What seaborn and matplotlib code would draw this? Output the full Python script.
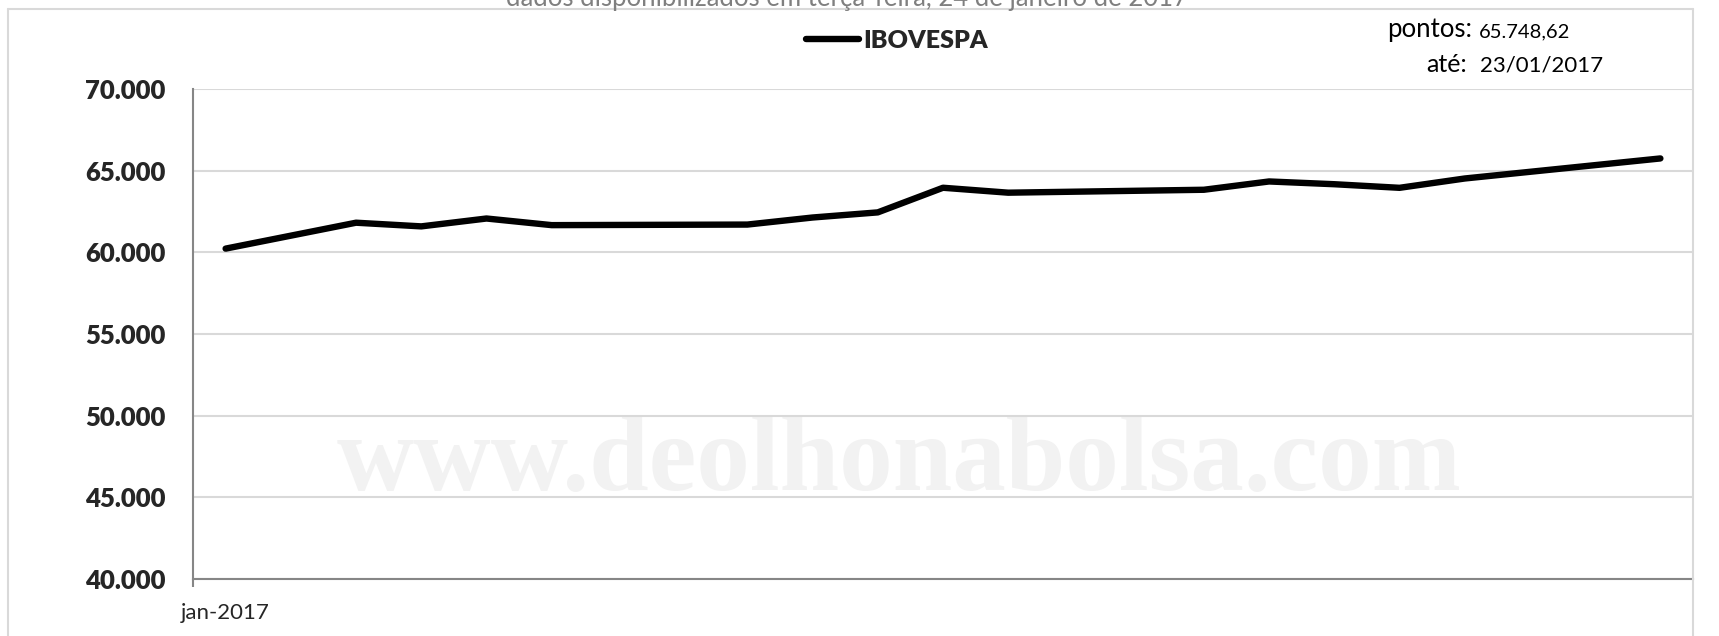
import pandas as pd
import matplotlib.pyplot as plt
import matplotlib.dates as mdates
from matplotlib.lines import Line2D
from matplotlib.ticker import FuncFormatter, FixedLocator
import seaborn as sns

# dados do gráfico
datas = ['2017-01-01', '2017-01-03', '2017-01-04', '2017-01-05', '2017-01-06',
         '2017-01-09', '2017-01-10', '2017-01-11', '2017-01-12', '2017-01-13',
         '2017-01-16', '2017-01-17', '2017-01-18', '2017-01-19', '2017-01-20',
         '2017-01-23']
pontos = [60227, 61814, 61589, 62071, 61665,
          61700, 62132, 62446, 63954, 63652,
          63831, 64339, 64170, 63950, 64521,
          65748.62]
yticks = [40000, 45000, 50000, 55000, 60000, 65000, 70000]
titulo = 'dados disponibilizados em terça-feira, 24 de janeiro de 2017'
serie = 'IBOVESPA'
ultimo_valor = '65.748,62'
ultima_data = '23/01/2017'
marca = 'www.deolhonabolsa.com'

df = pd.DataFrame({'data': pd.to_datetime(datas), 'pontos': pontos})

sns.set_style('white')
plt.rcParams['font.family'] = ['Lato', 'DejaVu Sans']

W, H = 1719, 636
fig = plt.figure(figsize=(W / 100, H / 100), dpi=100)
ax = fig.add_axes([193 / W, (H - 579) / H, 1500 / W, 490 / H])

def fx(px):
    return px / W

def fy(py):
    return 1 - py / H

# marca d'água
ax.text(0.471, (579 - 490) / 490, marca, transform=ax.transAxes, ha='center',
        va='baseline', fontsize=77, fontweight='bold', family='Liberation Serif',
        color='#f2f2f2', zorder=0)

sns.lineplot(data=df, x='data', y='pontos', color='black', linewidth=4.6,
             ax=ax, label=serie, zorder=3)
for ln in ax.get_lines():
    ln.set_solid_capstyle('round')
    ln.set_solid_joinstyle('round')

ax.set_ylim(40000, 70000)
ax.set_yticks(yticks)
ax.yaxis.set_major_formatter(FuncFormatter(lambda v, p: f'{int(v):,}'.replace(',', '.')))
ax.set_xlim(pd.Timestamp('2017-01-01') - pd.Timedelta(hours=12),
            pd.Timestamp('2017-01-23') + pd.Timedelta(hours=12))
ax.set_xticks([mdates.date2num(pd.Timestamp('2017-01-01'))])
ax.set_xticklabels(['jan-2017'])
ax.xaxis.set_minor_locator(FixedLocator([mdates.date2num(pd.Timestamp('2016-12-31 12:00'))]))

ax.grid(axis='y', color='#d9d9d9', linewidth=1.5, zorder=1)
ax.set_axisbelow(True)
for s in ['top', 'right']:
    ax.spines[s].set_visible(False)
for s in ['left', 'bottom']:
    ax.spines[s].set_color('#868686')
    ax.spines[s].set_linewidth(1.5)

ax.tick_params(axis='y', which='major', length=6, width=1.5, color='#868686',
               pad=14, labelsize=18.5)
ax.tick_params(axis='x', which='major', length=0, pad=17, labelsize=16)
ax.tick_params(axis='x', which='minor', length=6, width=1.5, color='#868686',
               bottom=True)
for lb in ax.get_yticklabels():
    lb.set_fontweight('heavy')
ax.set_xlabel('')
ax.set_ylabel('')

# legenda
ax.legend(loc='center left', bbox_to_anchor=(fx(806), fy(41)),
          bbox_transform=fig.transFigure, frameon=False, borderpad=0,
          borderaxespad=0, handlelength=2.1, handletextpad=0.2,
          prop={'weight': 'heavy', 'size': 18})

# textos no topo
fig.text(fx(847), fy(6), titulo, ha='center', va='baseline', fontsize=18.5,
         color='#7f7f7f')
fig.text(fx(1472), fy(37), 'pontos:', ha='right', va='baseline', fontsize=18.5,
         color='black')
fig.text(fx(1479), fy(37), ultimo_valor, ha='left', va='baseline', fontsize=14.5,
         color='black')
fig.text(fx(1467), fy(72), 'até:', ha='right', va='baseline', fontsize=18,
         color='black')
fig.text(fx(1480), fy(72), ultima_data, ha='left', va='baseline', fontsize=16,
         color='black')

# moldura externa
borda = '#d9d9d9'
fig.add_artist(Line2D([fx(8), fx(1693)], [fy(9), fy(9)], color=borda, lw=1.5))
fig.add_artist(Line2D([fx(8), fx(8)], [fy(9), 0], color=borda, lw=1.5))
fig.add_artist(Line2D([fx(1693), fx(1693)], [fy(9), 0], color=borda, lw=1.5))

fig.savefig('out.png', dpi=100, facecolor='white')
